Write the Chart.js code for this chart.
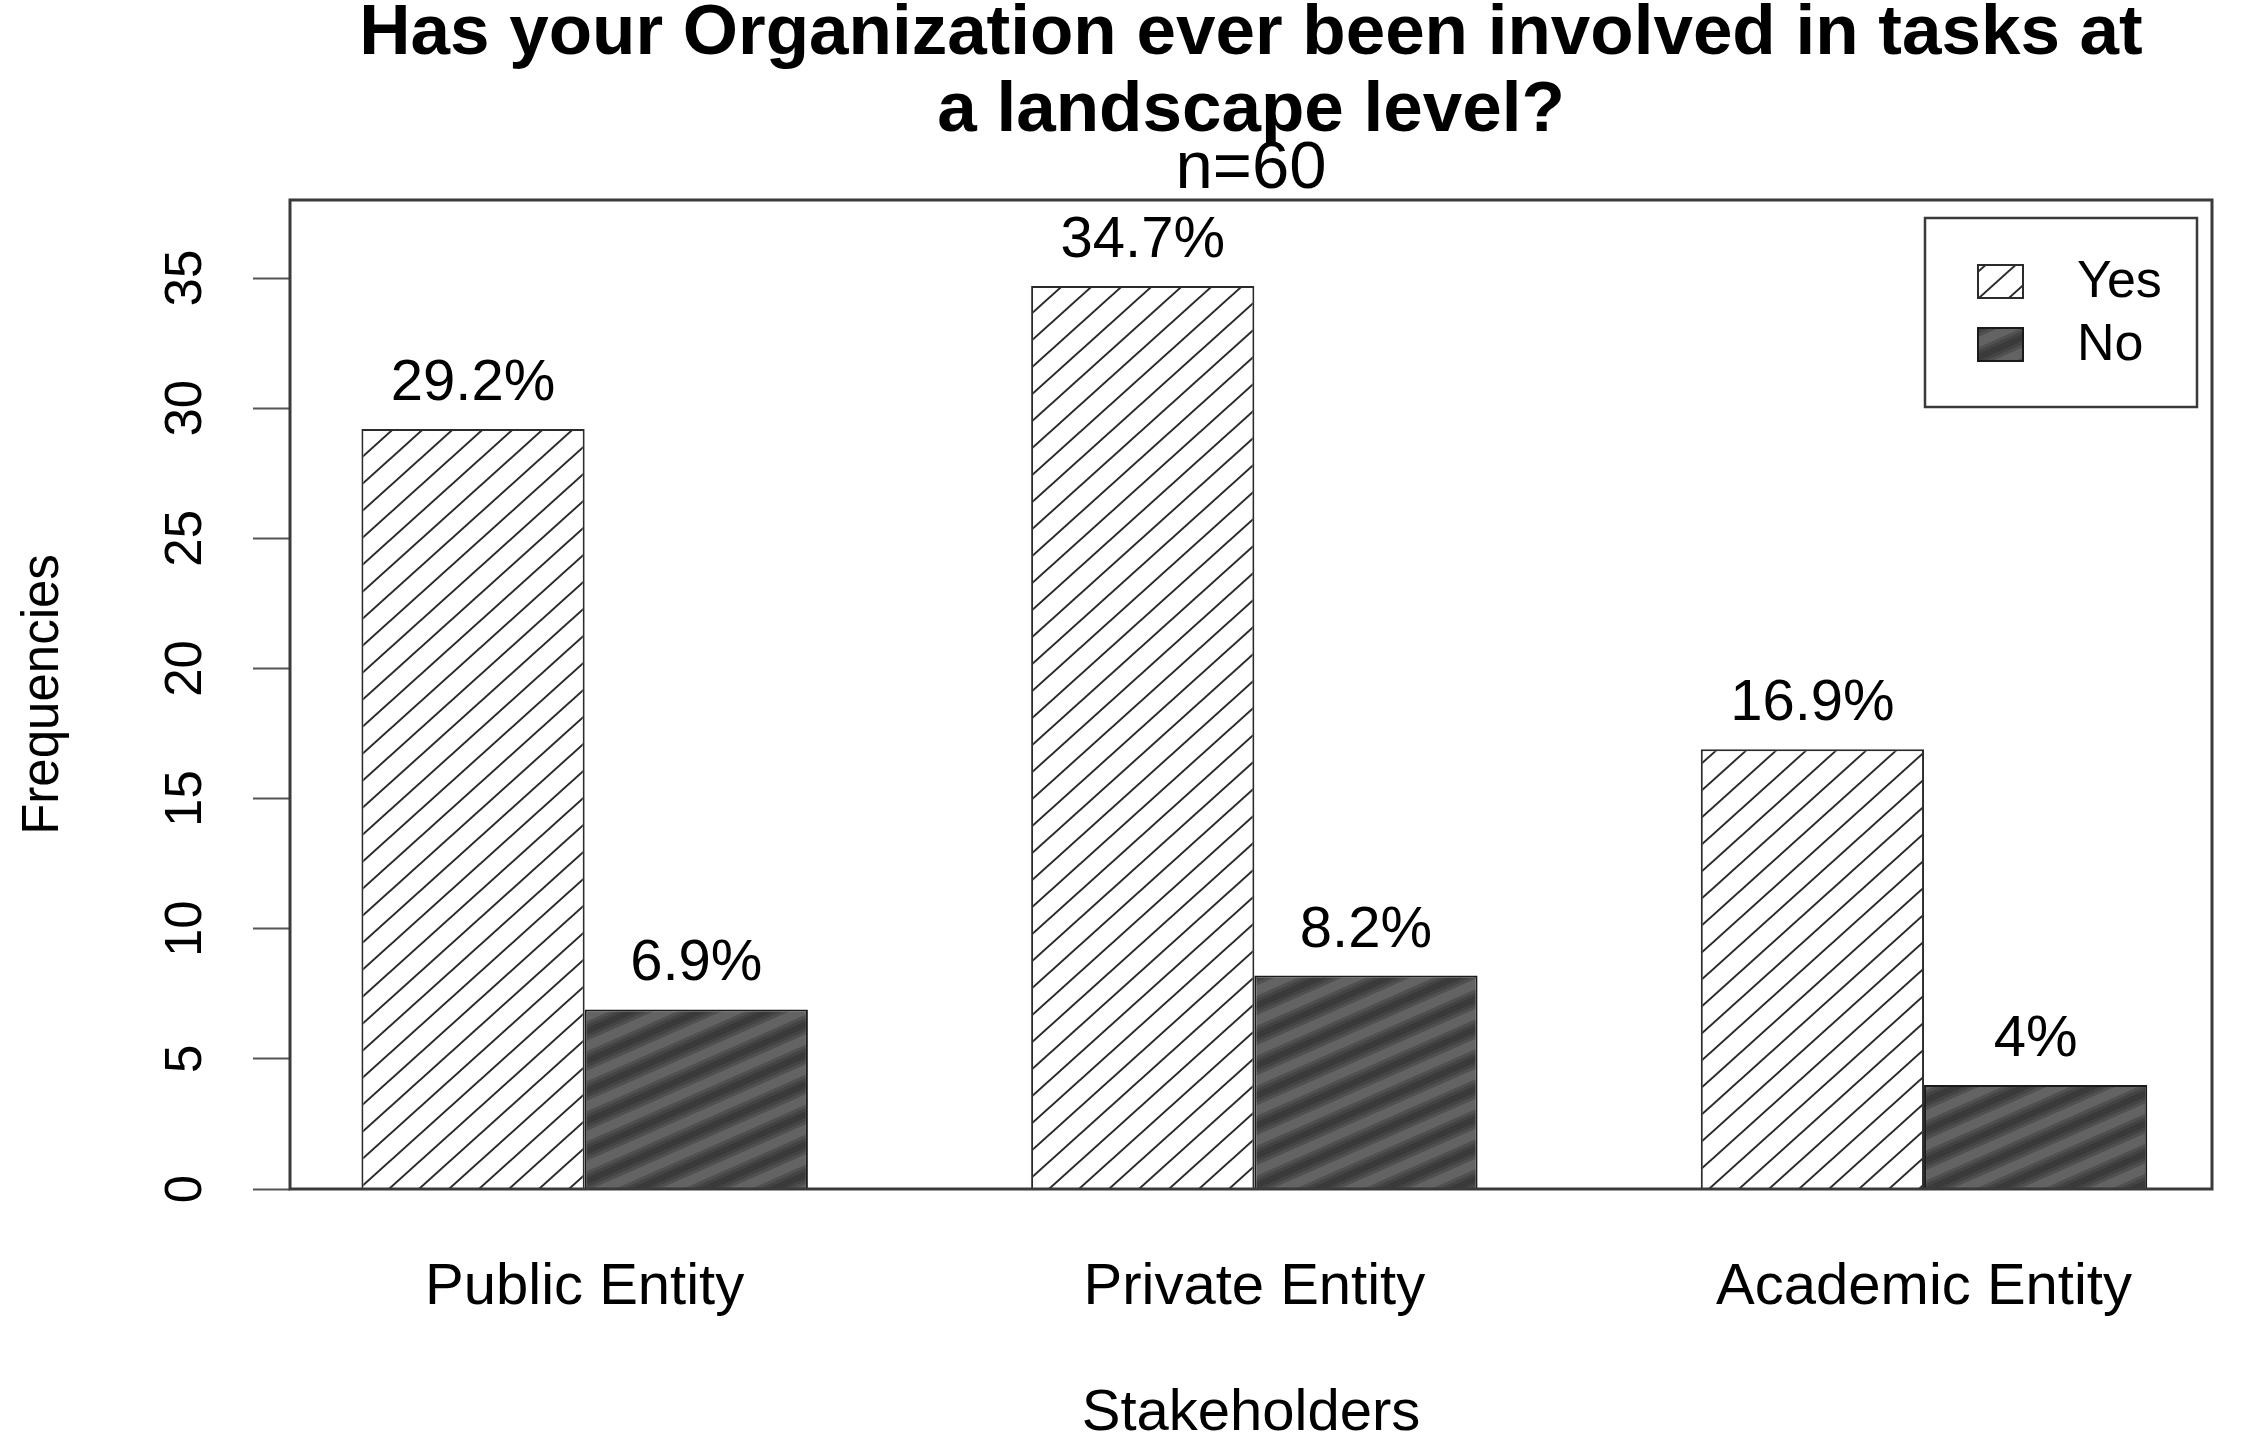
<!DOCTYPE html>
<html>
<head>
<meta charset="utf-8">
<title>Landscape level tasks</title>
<script src="https://cdn.jsdelivr.net/npm/chart.js@4.4.1/dist/chart.umd.min.js"></script>
<style>
  html, body { margin: 0; padding: 0; background: #fff; }
  #wrap { width: 2243px; height: 1449px; }
</style>
</head>
<body>
<div id="wrap"><canvas id="chart" width="2243" height="1449"></canvas></div>
<script>
const categories = ['Public Entity', 'Private Entity', 'Academic Entity'];
const seriesNames = ['Yes', 'No'];
const yesValues = [29.2, 34.7, 16.9];
const noValues = [6.9, 8.2, 4];
const yesLabels = ['29.2%', '34.7%', '16.9%'];
const noLabels = ['6.9%', '8.2%', '4%'];
const yTicks = [0, 5, 10, 15, 20, 25, 30, 35];
const titleLines = ['Has your Organization ever been involved in tasks at', 'a landscape level?'];
const subtitleText = 'n=60';
const xTitle = 'Stakeholders';
const yTitle = 'Frequencies';

// barplot style positions: each group = 2 bars + 1 gap, first group starts at 1
const groupCenter = i => 3 * i + 2;

// use the narrow face if it is installed, else plain Liberation Sans a bit smaller
const probe = document.createElement('canvas').getContext('2d');
probe.font = '100px monospace';
const monoW = probe.measureText('Public Entity').width;
probe.font = "100px 'Liberation Sans Narrow', monospace";
const hasNarrow = Math.abs(probe.measureText('Public Entity').width - monoW) > 1;
const axisFamily = hasNarrow ? "'Liberation Sans Narrow', 'Liberation Sans', sans-serif" : "'Liberation Sans', Arial, sans-serif";
const plainFamily = "'Liberation Sans', Arial, sans-serif";
const bigSize = hasNarrow ? 70 : 58;
const smallSize = hasNarrow ? 60 : 51;
probe.font = smallSize + 'px ' + axisFamily;
const tickW = probe.measureText('35').width;

const canvas = document.getElementById('chart');
const mainCtx = canvas.getContext('2d');

function hatch(w, h, bg, strokes) {
    const c = document.createElement('canvas');
    c.width = w;
    c.height = h;
    const g = c.getContext('2d');
    g.fillStyle = bg;
    g.fillRect(0, 0, w, h);
    strokes.forEach(([color, lw]) => {
        g.strokeStyle = color;
        g.lineWidth = lw;
        for (let k = -2; k <= 2; k++) {
            g.beginPath();
            g.moveTo(-w, 2 * h + k * h);
            g.lineTo(2 * w, -h + k * h);
            g.stroke();
        }
    });
    return mainCtx.createPattern(c, 'repeat');
}

const yesFill = hatch(30, 27, '#ffffff', [['#2b2b2b', 2]]);
const noFill = hatch(68, 30, '#636363', [['#505050', 18], ['#444444', 12], ['#3a3a3a', 6]]);

// box round the plot region
const framePlugin = {
    id: 'frame',
    afterDatasetsDraw(chart) {
        const { ctx, chartArea: a } = chart;
        ctx.save();
        ctx.strokeStyle = '#3a3a3a';
        ctx.lineWidth = 3;
        ctx.strokeRect(a.left, a.top, a.right - a.left, a.bottom - a.top);
        ctx.restore();
    }
};

// percentage text over each bar
const barLabelPlugin = {
    id: 'barLabels',
    afterDatasetsDraw(chart) {
        const ctx = chart.ctx;
        const labelSets = [yesLabels, noLabels];
        ctx.save();
        ctx.font = bigSize + 'px ' + axisFamily;
        ctx.fillStyle = '#000';
        ctx.textAlign = 'center';
        ctx.textBaseline = 'alphabetic';
        chart.data.datasets.forEach((ds, i) => {
            chart.getDatasetMeta(i).data.forEach((bar, j) => {
                ctx.fillText(labelSets[i][j], bar.x, bar.y - 29);
            });
        });
        ctx.restore();
    }
};

// legend box in the top right corner of the plot
const legendPlugin = {
    id: 'boxLegend',
    afterDraw(chart) {
        const { ctx, chartArea: a } = chart;
        const x0 = a.right - 287, y0 = a.top + 18, w = 272, h = 189;
        ctx.save();
        ctx.fillStyle = '#fff';
        ctx.fillRect(x0, y0, w, h);
        ctx.strokeStyle = '#3a3a3a';
        ctx.lineWidth = 2.5;
        ctx.strokeRect(x0, y0, w, h);
        ctx.font = '52px ' + plainFamily;
        ctx.textBaseline = 'middle';
        ctx.textAlign = 'left';
        chart.data.datasets.forEach((ds, i) => {
            const cy = y0 + 63 + i * 63;
            ctx.fillStyle = ds.backgroundColor;
            ctx.fillRect(x0 + 53, cy - 16, 45, 33);
            ctx.strokeStyle = ds.borderColor;
            ctx.lineWidth = 2;
            ctx.strokeRect(x0 + 53, cy - 16, 45, 33);
            ctx.fillStyle = '#000';
            ctx.fillText(ds.label, x0 + 152, cy + 2);
        });
        ctx.restore();
    }
};

new Chart(canvas, {
    type: 'bar',
    data: {
        datasets: [{
            label: seriesNames[0],
            data: yesValues.map((v, i) => ({ x: groupCenter(i), y: v })),
            backgroundColor: yesFill,
            borderColor: '#2b2b2b',
            borderWidth: 2,
            categoryPercentage: 2 / 3,
            barPercentage: 1
        }, {
            label: seriesNames[1],
            data: noValues.map((v, i) => ({ x: groupCenter(i), y: v })),
            backgroundColor: noFill,
            borderColor: '#1a1a1a',
            borderWidth: 2,
            categoryPercentage: 2 / 3,
            barPercentage: 1
        }]
    },
    plugins: [framePlugin, barLabelPlugin, legendPlugin],
    options: {
        responsive: false,
        animation: false,
        devicePixelRatio: 1,
        events: [],
        layout: { padding: { left: 0, right: 31, top: 0, bottom: 0 } },
        plugins: {
            legend: { display: false },
            tooltip: { enabled: false },
            title: {
                display: true,
                text: titleLines,
                fullSize: false,
                color: '#000',
                font: { family: plainFamily, size: 71, weight: 'bold', lineHeight: '77px' },
                padding: { top: -4, bottom: -14 }
            },
            subtitle: {
                display: true,
                text: subtitleText,
                fullSize: false,
                color: '#000',
                font: { family: plainFamily, size: 67, lineHeight: '68px' },
                padding: { top: 0, bottom: -4 }
            }
        },
        scales: {
            x: {
                type: 'linear',
                offset: false,
                min: 0.68,
                max: 9.29,
                afterBuildTicks: s => { s.ticks = categories.map((c, i) => ({ value: groupCenter(i) })); },
                afterFit: s => { s.height = 260; },
                ticks: {
                    callback: (v, i) => categories[i],
                    autoSkip: false,
                    minRotation: 0,
                    maxRotation: 0,
                    padding: 99 - 0.6 * bigSize,
                    color: '#000',
                    font: { family: axisFamily, size: bigSize }
                },
                grid: { display: false, drawTicks: false },
                border: { display: false },
                title: {
                    display: true,
                    text: xTitle,
                    color: '#000',
                    font: { family: axisFamily, size: bigSize, lineHeight: 1 },
                    padding: { top: 0, bottom: 35 - bigSize / 2 }
                }
            },
            y: {
                min: 0,
                max: 38,
                afterBuildTicks: s => { s.ticks = yTicks.map(v => ({ value: v })); },
                afterFit: s => { s.width = 290; },
                ticks: {
                    minRotation: 90,
                    maxRotation: 90,
                    crossAlign: 'center',
                    padding: 66 - tickW / 2,
                    color: '#000',
                    font: { family: axisFamily, size: smallSize }
                },
                grid: { drawOnChartArea: false, tickLength: 37, tickColor: '#555', tickWidth: 2 },
                border: { display: false },
                title: {
                    display: true,
                    text: yTitle,
                    color: '#000',
                    font: { family: axisFamily, size: smallSize },
                    padding: { top: 13, bottom: 0 }
                }
            }
        }
    }
});
</script>
</body>
</html>
